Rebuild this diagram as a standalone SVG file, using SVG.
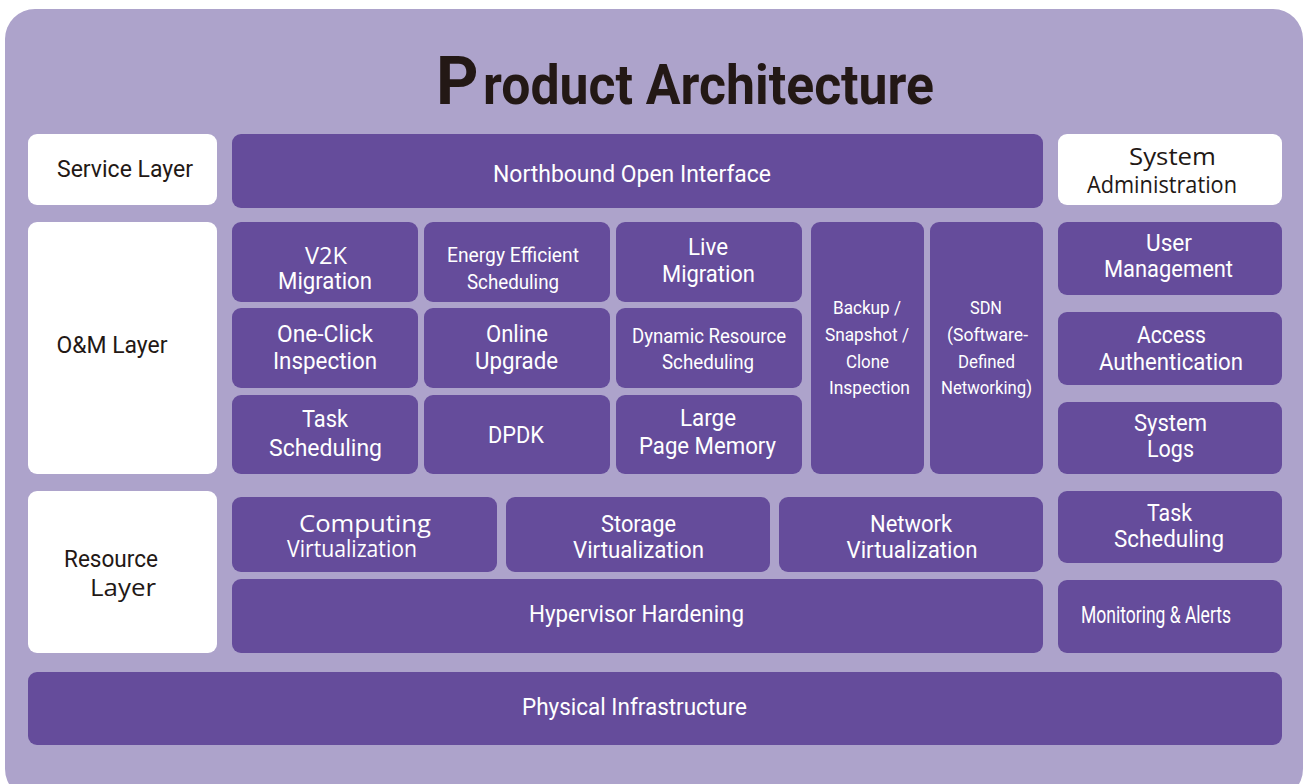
<svg xmlns="http://www.w3.org/2000/svg" width="1305" height="784" viewBox="0 0 1305 784">
<style>
.bg{fill:#ADA3CB}
.dk{fill:#654C9B}
.wh{fill:#FFFFFF}
text{font-family:Roboto,"Liberation Sans",sans-serif;text-anchor:middle}
.w{fill:#FFFFFF;font-size:24px}
.s{font-size:20px}
.xs{font-size:18.5px}
.d{fill:#231815;font-size:23px}
.my{font-family:"Open Sans","Noto Sans","Liberation Sans",sans-serif}
</style>
<rect width="1305" height="784" fill="#FFFFFF"/>
<rect class="bg" x="5" y="9" width="1298" height="790" rx="30"/>
<g id="title">
<text x="436" y="104" style="text-anchor:start;font-weight:700;fill:#231815"><tspan font-size="66">P</tspan><tspan x="483" font-size="56" textLength="451" lengthAdjust="spacingAndGlyphs">roduct Architecture</tspan></text>
</g>
<g id="service-layer"><rect class="wh" x="28" y="134" width="189" height="71" rx="9"/><text class="d" x="125" y="177" font-size="22" textLength="136" lengthAdjust="spacingAndGlyphs">Service Layer</text></g>
<g id="northbound"><rect class="dk" x="232" y="134" width="811" height="74" rx="9"/><text class="w" x="632" y="182" textLength="278" lengthAdjust="spacingAndGlyphs">Northbound Open Interface</text></g>
<g id="system-administration"><rect class="wh" x="1058" y="134" width="224" height="71" rx="9"/><text class="d my" x="1172.5" y="165" font-size="24" textLength="87" lengthAdjust="spacingAndGlyphs">System</text><text class="d my" x="1162" y="193" font-size="24" textLength="150" lengthAdjust="spacingAndGlyphs">Administration</text></g>
<g id="om-layer"><rect class="wh" x="28" y="222" width="189" height="252" rx="9"/><text class="d" x="112" y="353" textLength="111" lengthAdjust="spacingAndGlyphs">O&amp;M Layer</text></g>
<g id="v2k-migration"><rect class="dk" x="232" y="222" width="186" height="80" rx="9"/><text class="w my" x="326" y="264" font-size="21" textLength="42" lengthAdjust="spacingAndGlyphs">V2K</text><text class="w" x="325" y="289" textLength="94" lengthAdjust="spacingAndGlyphs">Migration</text></g>
<g id="energy-efficient-scheduling"><rect class="dk" x="424" y="222" width="186" height="80" rx="9"/><text class="w s" x="513" y="262" textLength="132" lengthAdjust="spacingAndGlyphs">Energy  Efficient</text><text class="w s" x="513" y="289" textLength="92" lengthAdjust="spacingAndGlyphs">Scheduling</text></g>
<g id="live-migration"><rect class="dk" x="616" y="222" width="186" height="80" rx="9"/><text class="w" x="708" y="255" textLength="40" lengthAdjust="spacingAndGlyphs">Live</text><text class="w" x="708.5" y="282" textLength="93" lengthAdjust="spacingAndGlyphs">Migration</text></g>
<g id="one-click-inspection"><rect class="dk" x="232" y="308" width="186" height="80" rx="9"/><text class="w" x="325" y="342" textLength="96" lengthAdjust="spacingAndGlyphs">One-Click</text><text class="w" x="325" y="369" textLength="104" lengthAdjust="spacingAndGlyphs">Inspection</text></g>
<g id="online-upgrade"><rect class="dk" x="424" y="308" width="186" height="80" rx="9"/><text class="w" x="517" y="342" textLength="62" lengthAdjust="spacingAndGlyphs">Online</text><text class="w" x="516.5" y="369" textLength="83" lengthAdjust="spacingAndGlyphs">Upgrade</text></g>
<g id="dynamic-resource-scheduling"><rect class="dk" x="616" y="308" width="186" height="80" rx="9"/><text class="w s" x="709" y="343" textLength="154" lengthAdjust="spacingAndGlyphs">Dynamic Resource</text><text class="w s" x="708" y="369" textLength="92" lengthAdjust="spacingAndGlyphs">Scheduling</text></g>
<g id="task-scheduling-om"><rect class="dk" x="232" y="395" width="186" height="79" rx="9"/><text class="w" x="325" y="427" textLength="46" lengthAdjust="spacingAndGlyphs">Task</text><text class="w" x="325.5" y="456" textLength="113" lengthAdjust="spacingAndGlyphs">Scheduling</text></g>
<g id="dpdk"><rect class="dk" x="424" y="395" width="186" height="79" rx="9"/><text class="w" x="516" y="443" textLength="56" lengthAdjust="spacingAndGlyphs">DPDK</text></g>
<g id="large-page-memory"><rect class="dk" x="616" y="395" width="186" height="79" rx="9"/><text class="w" x="708" y="426" textLength="56" lengthAdjust="spacingAndGlyphs">Large</text><text class="w" x="707.5" y="454" textLength="137" lengthAdjust="spacingAndGlyphs">Page Memory</text></g>
<g id="backup-snapshot-clone"><rect class="dk" x="811" y="222" width="113" height="252" rx="9"/><text class="w xs" x="867" y="314" textLength="68" lengthAdjust="spacingAndGlyphs">Backup /</text><text class="w xs" x="867" y="341" textLength="84" lengthAdjust="spacingAndGlyphs">Snapshot /</text><text class="w xs" x="867.5" y="368" textLength="43" lengthAdjust="spacingAndGlyphs">Clone</text><text class="w xs" x="869.5" y="394" textLength="81" lengthAdjust="spacingAndGlyphs">Inspection</text></g>
<g id="sdn"><rect class="dk" x="930" y="222" width="113" height="252" rx="9"/><text class="w xs" x="986" y="314" textLength="32" lengthAdjust="spacingAndGlyphs">SDN</text><text class="w xs" x="987.5" y="341" textLength="81" lengthAdjust="spacingAndGlyphs">(Software-</text><text class="w xs" x="986.5" y="368" textLength="57" lengthAdjust="spacingAndGlyphs">Defined</text><text class="w xs" x="986.5" y="394" textLength="91" lengthAdjust="spacingAndGlyphs">Networking)</text></g>
<g id="user-management"><rect class="dk" x="1058" y="222" width="224" height="73" rx="9"/><text class="w" x="1169" y="251" textLength="46" lengthAdjust="spacingAndGlyphs">User</text><text class="w" x="1168.5" y="277" textLength="129" lengthAdjust="spacingAndGlyphs">Management</text></g>
<g id="access-authentication"><rect class="dk" x="1058" y="312" width="224" height="73" rx="9"/><text class="w" x="1171.5" y="343" textLength="69" lengthAdjust="spacingAndGlyphs">Access</text><text class="w" x="1171" y="370" textLength="144" lengthAdjust="spacingAndGlyphs">Authentication</text></g>
<g id="system-logs"><rect class="dk" x="1058" y="402" width="224" height="72" rx="9"/><text class="w" x="1170.5" y="431" textLength="73" lengthAdjust="spacingAndGlyphs">System</text><text class="w" x="1170.5" y="457" textLength="47" lengthAdjust="spacingAndGlyphs">Logs</text></g>
<g id="resource-layer"><rect class="wh" x="28" y="491" width="189" height="162" rx="9"/><text class="d" x="111" y="567" font-size="25" textLength="94" lengthAdjust="spacingAndGlyphs">Resource</text><text class="d my" x="123" y="596" font-size="26" textLength="66" lengthAdjust="spacingAndGlyphs">Layer</text></g>
<g id="computing-virtualization"><rect class="dk" x="232" y="497" width="265" height="75" rx="9"/><text class="w my" x="365" y="532" font-size="24" textLength="132" lengthAdjust="spacingAndGlyphs">Computing</text><text class="w my" x="352" y="557" font-size="23" textLength="130" lengthAdjust="spacingAndGlyphs">Virtualization</text></g>
<g id="storage-virtualization"><rect class="dk" x="506" y="497" width="264" height="75" rx="9"/><text class="w" x="638.5" y="532" textLength="75" lengthAdjust="spacingAndGlyphs">Storage</text><text class="w" x="638.5" y="558" textLength="131" lengthAdjust="spacingAndGlyphs">Virtualization</text></g>
<g id="network-virtualization"><rect class="dk" x="779" y="497" width="264" height="75" rx="9"/><text class="w" x="911" y="532" textLength="82" lengthAdjust="spacingAndGlyphs">Network</text><text class="w" x="912" y="558" textLength="131" lengthAdjust="spacingAndGlyphs">Virtualization</text></g>
<g id="hypervisor-hardening"><rect class="dk" x="232" y="579" width="811" height="74" rx="9"/><text class="w" x="636.5" y="622" textLength="215" lengthAdjust="spacingAndGlyphs">Hypervisor Hardening</text></g>
<g id="task-scheduling-admin"><rect class="dk" x="1058" y="491" width="224" height="72" rx="9"/><text class="w" x="1169.5" y="521" textLength="45" lengthAdjust="spacingAndGlyphs">Task</text><text class="w" x="1169" y="547" textLength="110" lengthAdjust="spacingAndGlyphs">Scheduling</text></g>
<g id="monitoring-alerts"><rect class="dk" x="1058" y="580" width="224" height="73" rx="9"/><text class="w" x="1156" y="623" font-size="19" textLength="150" lengthAdjust="spacingAndGlyphs">Monitoring &amp; Alerts</text></g>
<g id="physical-infrastructure"><rect class="dk" x="28" y="672" width="1254" height="73" rx="9"/><text class="w" x="634.5" y="715" textLength="225" lengthAdjust="spacingAndGlyphs">Physical Infrastructure</text></g>
<g id="connectors"></g>
</svg>
